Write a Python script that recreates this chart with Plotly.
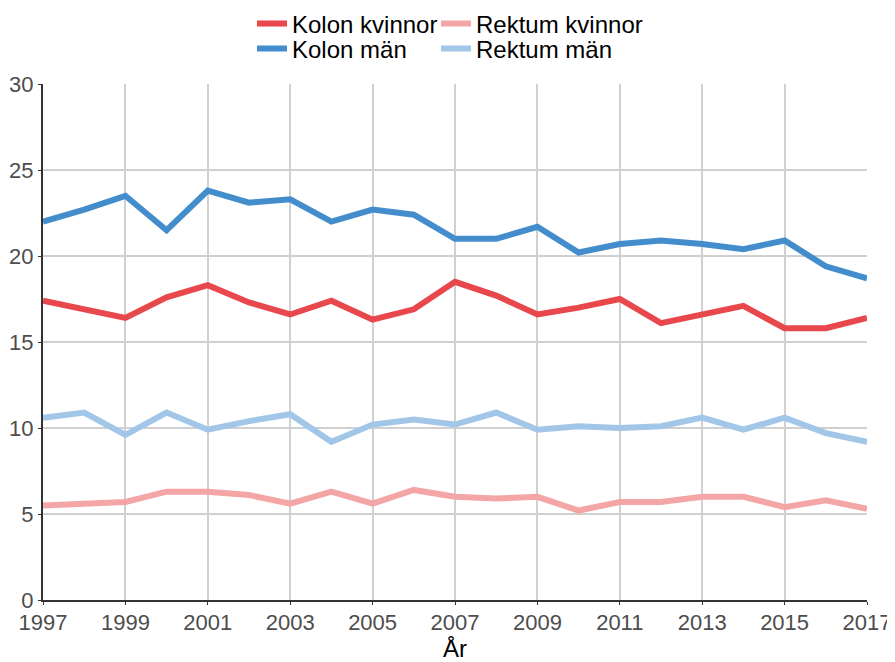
import plotly.graph_objects as go

years = list(range(1997, 2018))

kolon_kvinnor = [17.4, 16.9, 16.4, 17.6, 18.3, 17.3, 16.6, 17.4, 16.3, 16.9, 18.5,
                 17.7, 16.6, 17.0, 17.5, 16.1, 16.6, 17.1, 15.8, 15.8, 16.4]
rektum_kvinnor = [5.5, 5.6, 5.7, 6.3, 6.3, 6.1, 5.6, 6.3, 5.6, 6.4, 6.0,
                  5.9, 6.0, 5.2, 5.7, 5.7, 6.0, 6.0, 5.4, 5.8, 5.3]
kolon_man = [22.0, 22.7, 23.5, 21.5, 23.8, 23.1, 23.3, 22.0, 22.7, 22.4, 21.0,
             21.0, 21.7, 20.2, 20.7, 20.9, 20.7, 20.4, 20.9, 19.4, 18.7]
rektum_man = [10.6, 10.9, 9.6, 10.9, 9.9, 10.4, 10.8, 9.2, 10.2, 10.5, 10.2,
              10.9, 9.9, 10.1, 10.0, 10.1, 10.6, 9.9, 10.6, 9.7, 9.2]

series = [
    ("Kolon kvinnor", kolon_kvinnor, "#E8474B"),
    ("Rektum kvinnor", rektum_kvinnor, "#F4A5A6"),
    ("Kolon män", kolon_man, "#438DCD"),
    ("Rektum män", rektum_man, "#A1C6E7"),
]
legend_ids = ["legend", "legend2", "legend3", "legend4"]

W, H = 887, 654  # page body has an 8px margin inside the 895x662 window
legend_pos = [(244, 16), (428, 16), (244, 41), (428, 41)]

font = "Liberation Sans, Arial, sans-serif"

fig = go.Figure()
for (name, vals, col), lg in zip(series, legend_ids):
    fig.add_trace(go.Scatter(x=years, y=vals, mode="lines", name=name,
                             line=dict(color=col, width=6), legend=lg,
                             showlegend=True))

legends = {}
for lg, (px, py) in zip(legend_ids, legend_pos):
    legends[lg] = dict(orientation="h", xref="container", yref="container",
                       x=px / W, y=1 - py / H, visible=True,
                       xanchor="left", yanchor="middle",
                       font=dict(family=font, size=24, color="#000000"),
                       bgcolor="rgba(0,0,0,0)", itemwidth=30)

fig.update_layout(
    width=W, height=H, showlegend=True,
    margin=dict(l=35, r=28, t=76, b=62, autoexpand=False),
    plot_bgcolor="white", paper_bgcolor="white",
    font=dict(family=font, size=22, color="#4d4d4d"),
    xaxis=dict(range=[1997, 2017], dtick=2, tick0=1997, automargin=False,
               showgrid=True, gridcolor="#d0d0d0", gridwidth=1.5,
               showline=True, linecolor="#333333", linewidth=2,
               ticks="outside", ticklen=3, tickcolor="#333333",
               ticklabelstandoff=-1,
               tickfont=dict(size=22, color="#4d4d4d"),
               title=dict(text="År", font=dict(size=24, color="#000000"), standoff=0),
               zeroline=False),
    yaxis=dict(range=[0, 30], dtick=5, automargin=False,
               showgrid=True, gridcolor="#d0d0d0", gridwidth=1.5,
               showline=True, linecolor="#333333", linewidth=2,
               ticks="outside", ticklen=3, tickcolor="#333333",
               tickfont=dict(size=22, color="#4d4d4d"),
               zeroline=False),
    **legends,
)

fig.write_html("out.html")
